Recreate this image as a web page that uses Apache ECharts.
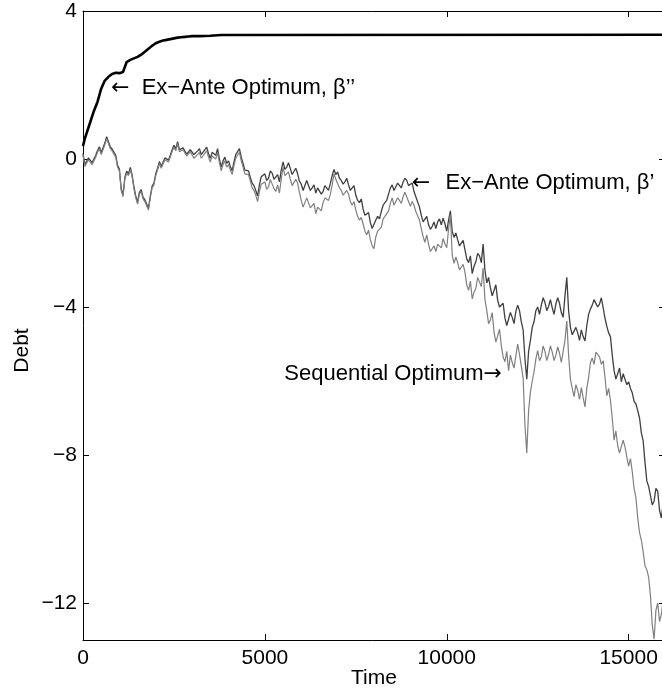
<!DOCTYPE html>
<html>
<head>
<meta charset="utf-8">
<script src="https://cdn.jsdelivr.net/npm/echarts@6/dist/echarts.min.js"></script>
<style>
  html, body { margin: 0; padding: 0; background: #fff; }
  #chart { width: 662px; height: 692px; }
</style>
</head>
<body>
<div id="chart"></div>
<script>
// ---- data ----
const xTicks = [0, 5000, 10000, 15000];
const yTicks = [-12, -8, -4, 0, 4];

// grey paths: main samples every 100 periods (t = 0, 100, ... 16000)
// and the opposite edge of the noisy band half-way between (t = 50, 150, ... 15950)
const sampleStep = 100;

// Sequential Optimum (light grey)
const seqValues = [
  0.10, -0.25, 0.02, -0.10, 0.18, 0.12, 0.38, 0.50, 0.22, 0.05,
  -0.32, -1.02, -0.38, -0.28, -0.80, -1.22, -0.88, -1.15, -1.38, -0.78,
  -0.45, -0.12, -0.20, 0.00, 0.05, 0.32, 0.42, 0.15, 0.22, 0.12,
  0.18, -0.02, 0.18, 0.05, 0.22, -0.08, 0.10, 0.18, -0.32, -0.05,
  -0.15, -0.42, 0.02, 0.18, -0.22, -0.35, -0.60, -0.85, -1.15, -0.68,
  -0.62, -0.75, -0.60, -0.88, -0.92, -0.22, -0.50, -0.55, -0.70, -0.65,
  -1.12, -1.28, -1.10, -1.30, -1.48, -1.25, -1.18, -1.02, -0.95, -0.40,
  -0.60, -0.85, -1.00, -0.95, -1.25, -1.38, -1.65, -1.75, -2.05, -2.18,
  -2.42, -1.95, -1.85, -1.55, -1.40, -1.05, -1.22, -1.12, -1.02, -0.95,
  -1.28, -1.25, -1.45, -1.88, -2.25, -2.30, -2.55, -2.50, -2.28, -2.15,
  -2.40, -1.50, -2.82, -2.80, -3.00, -3.05, -3.55, -3.78, -3.50, -3.25,
  -2.95, -4.10, -4.35, -4.68, -4.78, -5.05, -5.48, -5.72, -5.50, -5.32,
  -5.28, -5.92, -7.95, -6.30, -5.75, -5.18, -5.35, -5.20, -5.28, -5.22,
  -5.30, -5.25, -5.48, -4.38, -5.95, -6.42, -6.25, -6.18, -6.70, -5.90,
  -5.38, -5.22, -5.35, -5.45, -6.40, -6.52, -7.60, -7.75, -7.97, -7.78,
  -8.30, -8.45, -9.15, -10.10, -10.62, -11.10, -11.80, -12.98, -12.00, -12.30,
  -12.20
];
const seqHalfValues = [
  -0.20, -0.02, -0.15, 0.05, 0.28, 0.15, 0.55, 0.28, 0.20, -0.22,
  -0.85, -0.55, -0.45, -0.48, -1.05, -0.95, -1.08, -1.12, -1.05, -0.70,
  -0.30, -0.25, -0.02, -0.08, 0.20, 0.22, 0.20, 0.25, 0.08, 0.20,
  0.02, 0.12, 0.02, 0.15, 0.05, 0.08, 0.00, -0.10, -0.15, -0.22,
  -0.30, -0.18, 0.10, -0.05, -0.40, -0.42, -0.78, -0.98, -0.88, -0.72,
  -0.82, -0.55, -0.80, -0.70, -0.55, -0.45, -0.35, -0.72, -0.55, -0.90,
  -1.30, -1.05, -1.32, -1.20, -1.30, -1.40, -1.05, -1.12, -0.70, -0.55,
  -0.78, -0.98, -0.85, -1.15, -1.15, -1.55, -1.58, -1.95, -1.92, -2.35,
  -2.10, -2.00, -1.62, -1.50, -1.20, -1.25, -1.05, -1.20, -0.90, -1.15,
  -1.15, -1.42, -1.65, -2.10, -2.05, -2.50, -2.35, -2.30, -2.40, -2.30,
  -1.90, -2.60, -2.65, -3.00, -2.85, -3.40, -3.30, -3.60, -3.20, -3.45,
  -3.80, -4.45, -4.15, -4.95, -4.60, -5.35, -5.20, -5.30, -5.65, -5.00,
  -5.60, -7.20, -6.80, -6.00, -5.40, -5.45, -5.05, -5.45, -5.05, -5.45,
  -5.08, -5.50, -4.90, -5.30, -6.20, -6.10, -6.50, -6.45, -6.20, -5.50,
  -5.55, -5.20, -5.55, -5.90, -6.20, -7.00, -7.35, -7.95, -7.60, -8.05,
  -8.10, -8.90, -9.70, -10.30, -11.00, -11.30, -12.60, -12.20, -12.50, -11.90
];

// Ex-Ante Optimum, beta' (dark grey)
const betaPrimeValues = [
  0.15, -0.20, 0.07, -0.05, 0.23, 0.17, 0.43, 0.55, 0.27, 0.10,
  -0.27, -0.97, -0.33, -0.23, -0.75, -1.17, -0.83, -1.10, -1.33, -0.73,
  -0.40, -0.07, -0.15, 0.05, 0.10, 0.37, 0.47, 0.20, 0.27, 0.17,
  0.28, 0.08, 0.28, 0.15, 0.32, 0.02, 0.20, 0.28, -0.22, 0.05,
  -0.05, -0.32, 0.12, 0.28, -0.12, -0.25, -0.50, -0.72, -1.00, -0.48,
  -0.40, -0.52, -0.38, -0.58, -0.62, -0.08, -0.22, -0.26, -0.38, -0.40,
  -0.68, -0.80, -0.62, -0.78, -0.92, -0.82, -0.88, -0.72, -0.66, -0.28,
  -0.35, -0.58, -0.62, -0.70, -0.78, -0.98, -1.18, -1.35, -1.55, -1.72,
  -1.86, -1.55, -1.42, -1.18, -0.95, -0.70, -0.80, -0.70, -0.62, -0.58,
  -0.75, -0.88, -1.06, -1.52, -1.68, -1.78, -1.82, -1.88, -1.62, -1.60,
  -1.95, -1.40, -2.12, -2.18, -2.32, -2.45, -2.80, -3.10, -2.78, -2.62,
  -2.30, -3.35, -3.48, -3.55, -3.82, -4.05, -4.30, -4.45, -4.28, -4.12,
  -4.10, -4.62, -5.95, -4.90, -4.40, -4.00, -3.95, -3.88, -3.98, -4.02,
  -3.92, -3.90, -4.28, -3.20, -4.55, -4.80, -4.70, -4.62, -4.92, -4.20,
  -3.95, -3.82, -3.92, -4.02, -4.52, -4.80, -5.72, -5.90, -6.02, -5.82,
  -6.02, -6.32, -6.62, -7.00, -7.62, -8.70, -9.10, -9.25, -8.98, -9.70,
  -9.50
];
const betaPrimeHalfValues = [
  -0.15, 0.03, -0.10, 0.10, 0.33, 0.20, 0.60, 0.33, 0.25, -0.17,
  -0.80, -0.50, -0.40, -0.43, -1.00, -0.90, -1.03, -1.07, -1.00, -0.65,
  -0.25, -0.20, 0.03, -0.03, 0.25, 0.27, 0.25, 0.30, 0.13, 0.25,
  0.12, 0.22, 0.12, 0.25, 0.15, 0.18, 0.10, 0.00, -0.05, -0.12,
  -0.20, -0.08, 0.20, 0.05, -0.30, -0.32, -0.65, -0.85, -0.70, -0.52,
  -0.58, -0.32, -0.55, -0.42, -0.30, -0.28, -0.10, -0.42, -0.25, -0.60,
  -0.85, -0.58, -0.85, -0.70, -0.78, -0.95, -0.72, -0.85, -0.45, -0.42,
  -0.52, -0.68, -0.52, -0.85, -0.72, -1.12, -1.08, -1.52, -1.45, -1.88,
  -1.65, -1.62, -1.25, -1.12, -0.78, -0.85, -0.65, -0.78, -0.52, -0.72,
  -0.65, -1.02, -1.30, -1.70, -1.55, -1.90, -1.70, -1.70, -1.78, -1.75,
  -1.65, -1.95, -2.00, -2.35, -2.20, -2.70, -2.62, -2.90, -2.55, -2.80,
  -3.00, -3.20, -3.70, -3.40, -4.00, -3.90, -4.50, -4.15, -4.45, -3.95,
  -4.40, -5.40, -5.20, -4.55, -4.10, -4.20, -3.75, -4.10, -3.80, -4.20,
  -3.75, -4.15, -3.70, -4.10, -4.75, -4.55, -4.90, -4.80, -4.50, -4.05,
  -3.80, -4.00, -3.75, -4.30, -4.70, -5.30, -5.95, -5.65, -5.80, -6.10,
  -6.20, -6.55, -6.80, -7.40, -8.20, -8.85, -9.35, -8.90, -9.50, -9.30
];

// Ex-Ante Optimum, beta'' (black)
const betaDoubleTimes = [0, 50, 100, 150, 200, 300, 400, 500, 600, 700, 800, 900, 1000, 1100, 1200, 1300, 1400, 1500,
  1600, 1700, 1800, 1900, 2000, 2100, 2200, 2300, 2400, 2500, 2600, 2700, 2800, 2900, 3000, 3200, 3500,
  3800, 4000, 16000];
const betaDoubleValues = [0.35, 0.55, 0.70, 0.72, 1.00, 1.30, 1.55, 1.90, 2.12, 2.22, 2.30, 2.33, 2.32, 2.35, 2.62, 2.68,
  2.72, 2.76, 2.82, 2.90, 2.98, 3.06, 3.13, 3.17, 3.20, 3.22, 3.24, 3.26, 3.28, 3.29, 3.30, 3.31, 3.32,
  3.32, 3.33, 3.35, 3.35, 3.36];

// annotation anchors (arrow tips) in data units
const noteBetaDouble = [770, 1.92];
const noteBetaPrime = [9040, -0.66];
const noteSequential = [11520, -5.81];

// ---- chart ----
const FONT = '"Liberation Sans", Arial, Helvetica, sans-serif';
const FS = 21;
const NOTE_FS = 22;
function bandPairs(main, half) {
  const out = [];
  main.forEach((v, i) => {
    out.push([i * sampleStep, v]);
    if (i < half.length) out.push([i * sampleStep + sampleStep / 2, half[i]]);
  });
  return out;
}
const minus = v => String(v).replace('-', '\u2212');

const chart = echarts.init(document.getElementById('chart'), null, { renderer: 'canvas' });

const baseX = {
  type: 'value', min: 0, max: 16000,
  splitLine: { show: false },
  axisLine: { show: true, onZero: false, lineStyle: { color: '#000', width: 1 } },
  axisTick: { show: true, inside: true, length: 6, customValues: xTicks, lineStyle: { color: '#000', width: 1 } }
};
const baseY = {
  type: 'value', min: -13, max: 4,
  splitLine: { show: false },
  axisLine: { show: true, onZero: false, lineStyle: { color: '#000', width: 1 } },
  axisTick: { show: true, inside: true, length: 6, customValues: yTicks, lineStyle: { color: '#000', width: 1 } }
};

function note(coord, text, pos) {
  return {
    silent: true,
    symbol: 'circle', symbolSize: 0,
    data: [{ coord: coord }],
    label: {
      show: true, position: pos, distance: 0,
      formatter: text, color: '#000', fontSize: NOTE_FS, fontFamily: FONT,
      rich: {
        a: { fontFamily: '"DejaVu Sans", sans-serif', fontSize: 22, color: '#000' },
        b: { fontFamily: '"DejaVu Sans", sans-serif', fontSize: 22, color: '#000', padding: [0, 3, 0, 0] }
      }
    }
  };
}

chart.setOption({
  animation: false,
  backgroundColor: '#fff',
  grid: { left: 83, top: 11, width: 582, height: 629, outerBoundsMode: 'none', containLabel: false },
  xAxis: [
    Object.assign({}, baseX, {
      position: 'bottom',
      axisLabel: { customValues: xTicks, color: '#000', fontSize: FS, fontFamily: FONT, margin: 8, formatter: v => String(v) },
      name: 'Time', nameLocation: 'middle', nameGap: 28, nameMoveOverlap: false,
      nameTextStyle: { color: '#000', fontSize: FS, fontFamily: FONT }
    }),
    Object.assign({}, baseX, { position: 'top', axisLabel: { show: false } })
  ],
  yAxis: [
    Object.assign({}, baseY, {
      position: 'left',
      axisLabel: { customValues: yTicks, color: '#000', fontSize: FS, fontFamily: FONT, margin: 6, formatter: minus },
      name: 'Debt', nameLocation: 'middle', nameGap: 50, nameMoveOverlap: false,
      nameTextStyle: { color: '#000', fontSize: FS, fontFamily: FONT, padding: [0, 50, 0, 0] }
    }),
    Object.assign({}, baseY, { position: 'right', axisLabel: { show: false } })
  ],
  series: [
    {
      name: "Ex-Ante Optimum, beta'", type: 'line', xAxisIndex: 0, yAxisIndex: 0,
      data: bandPairs(betaPrimeValues, betaPrimeHalfValues), showSymbol: false, symbol: 'none',
      lineStyle: { color: '#404040', width: 1.3 }, z: 2,
      markPoint: note(noteBetaPrime, '{b|\u2190}  Ex\u2212Ante Optimum, \u03b2\u2019', 'right')
    },
    {
      name: 'Sequential Optimum', type: 'line', xAxisIndex: 0, yAxisIndex: 0,
      data: bandPairs(seqValues, seqHalfValues), showSymbol: false, symbol: 'none',
      lineStyle: { color: '#808080', width: 1.2 }, z: 3,
      markPoint: note(noteSequential, 'Sequential Optimum{a|\u2192}', 'left')
    },
    {
      name: "Ex-Ante Optimum, beta''", type: 'line', xAxisIndex: 0, yAxisIndex: 0,
      data: betaDoubleTimes.map((t, i) => [t, betaDoubleValues[i]]), showSymbol: false, symbol: 'none',
      lineStyle: { color: '#000', width: 2.6 }, z: 4,
      markPoint: note(noteBetaDouble, '{a|\u2190}  Ex\u2212Ante Optimum, \u03b2\u2019\u2019', 'right')
    }
  ]
});
</script>
</body>
</html>
